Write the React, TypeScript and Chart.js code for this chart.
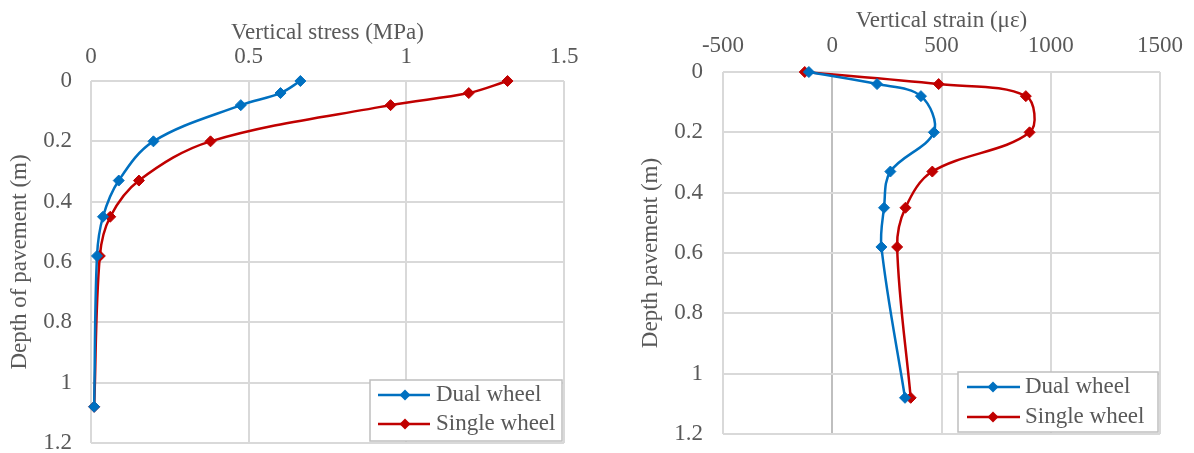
import React, { useEffect, useRef } from 'react';
import { Chart, registerables } from 'chart.js';

Chart.register(...registerables);

// ---- data ----
const depths = [0, 0.04, 0.08, 0.2, 0.33, 0.45, 0.58, 1.08];
const stressDual = [0.664, 0.601, 0.475, 0.198, 0.088, 0.038, 0.019, 0.01];
const stressSingle = [1.321, 1.198, 0.95, 0.379, 0.152, 0.061, 0.028, 0.01];
const strainDual = [-107, 205, 406, 465, 266, 237, 225, 333];
const strainSingle = [-126, 487, 886, 903, 458, 335, 297, 359];
const stressTicks = ['0', '0.5', '1', '1.5'];
const strainTicks = ['-500', '0', '500', '1000', '1500'];
const depthTicks = ['0', '0.2', '0.4', '0.6', '0.8', '1', '1.2'];
const seriesNames = ['Dual wheel', 'Single wheel'];
const seriesColors = ['#0070C0', '#C00000'];

const FONT = "'Liberation Serif', 'Times New Roman', serif";
const TEXT = '#595959';
const FS = 23;

function labelFor(v: number, arr: string[]) {
  const hit = arr.find((s) => Math.abs(Number(s) - v) < 1e-6);
  return hit === undefined ? '' : hit;
}

const boxLegend = {
  id: 'boxLegend',
  afterDatasetsDraw(chart: any, _args: any, opts: any) {
    if (!opts || !opts.show) return;
    const ctx = chart.ctx;
    const area = chart.chartArea;
    const w = opts.w, h = opts.h;
    const x0 = area.right - opts.dx - w;
    const y0 = area.bottom - opts.dy - h;
    ctx.save();
    ctx.fillStyle = '#ffffff';
    ctx.fillRect(x0, y0, w, h);
    ctx.strokeStyle = '#bfbfbf';
    ctx.lineWidth = 1.5;
    ctx.strokeRect(x0, y0, w, h);
    chart.data.datasets.forEach((ds: any, i: number) => {
      const cy = y0 + opts.rows[i];
      ctx.strokeStyle = ds.borderColor;
      ctx.lineWidth = 2.5;
      ctx.beginPath();
      ctx.moveTo(x0 + opts.l0, cy);
      ctx.lineTo(x0 + opts.l1, cy);
      ctx.stroke();
      const mx = x0 + opts.mk;
      const r = 5.5;
      ctx.fillStyle = ds.backgroundColor;
      ctx.beginPath();
      ctx.moveTo(mx, cy - r);
      ctx.lineTo(mx + r, cy);
      ctx.lineTo(mx, cy + r);
      ctx.lineTo(mx - r, cy);
      ctx.closePath();
      ctx.fill();
      ctx.fillStyle = TEXT;
      ctx.font = `${FS}px ${FONT}`;
      ctx.textBaseline = 'middle';
      ctx.textAlign = 'left';
      ctx.fillText(ds.label, x0 + opts.tx, cy);
    });
    ctx.restore();
  },
};

function makeConfig(p: any) {
  const datasets = [p.dual, p.single].map((vals: number[], i: number) => ({
    label: seriesNames[i],
    data: depths.map((d, k) => ({ x: vals[k], y: d })),
    showLine: true,
    borderColor: seriesColors[i],
    backgroundColor: seriesColors[i],
    borderWidth: 2.5,
    pointStyle: 'rectRot',
    pointRadius: 5.5,
    pointBorderWidth: 1,
    pointBorderColor: seriesColors[i],
    pointBackgroundColor: seriesColors[i],
    tension: 0.35,
    clip: false,
  }));
  return {
    type: 'scatter',
    data: { datasets },
    plugins: [boxLegend],
    options: {
      responsive: false,
      animation: false,
      layout: { padding: p.pad },
      plugins: {
        legend: { display: false },
        tooltip: { enabled: false },
        boxLegend: p.legend,
      },
      scales: {
        x: {
          type: 'linear',
          position: 'top',
          min: p.xmin,
          max: p.xmax,
          ticks: {
            stepSize: p.xstep,
            padding: p.xTickPad,
            color: TEXT,
            font: { family: FONT, size: FS },
            maxRotation: 0,
            autoSkip: false,
            callback: (v: number) => labelFor(v, p.xTicks),
          },
          grid: {
            color: (c: any) => (p.zeroDark && c.tick && c.tick.value === 0 ? '#bfbfbf' : '#d9d9d9'),
            lineWidth: 2,
            drawTicks: false,
          },
          border: { display: false },
          title: {
            display: true,
            text: p.xTitle,
            color: TEXT,
            font: { family: FONT, size: FS },
            padding: { top: p.xTitlePad, bottom: 0 },
          },
          afterFit: (s: any) => {
            s.height = p.topH;
            s.paddingLeft = 0;
            s.paddingRight = 0;
          },
        },
        y: {
          type: 'linear',
          reverse: true,
          min: 0,
          max: 1.2,
          ticks: {
            stepSize: 0.2,
            padding: p.yTickPad,
            color: TEXT,
            font: { family: FONT, size: FS },
            autoSkip: false,
            callback: (v: number) => labelFor(v, depthTicks),
          },
          grid: { color: '#d9d9d9', lineWidth: 2, drawTicks: false },
          border: { display: false },
          title: {
            display: true,
            text: p.yTitle,
            color: TEXT,
            font: { family: FONT, size: FS },
            padding: { top: p.yTitlePad, bottom: 0 },
          },
          afterFit: (s: any) => {
            s.width = p.leftW;
            s.paddingTop = 0;
            s.paddingBottom = 0;
          },
        },
      },
    },
  };
}

function ChartBox({ cfg, left }: { cfg: any; left: number }) {
  const ref = useRef<HTMLCanvasElement | null>(null);
  useEffect(() => {
    if (!ref.current) return;
    const chart = new Chart(ref.current, cfg);
    return () => chart.destroy();
  }, [cfg]);
  return (
    <div style={{ position: 'absolute', left, top: 0, width: 597, height: 453 }}>
      <canvas ref={ref} width={597} height={453} style={{ display: 'block' }} />
    </div>
  );
}

const leftCfg = makeConfig({
  dual: stressDual,
  single: stressSingle,
  xmin: 0,
  xmax: 1.5,
  xstep: 0.5,
  xTicks: stressTicks,
  xTitle: 'Vertical stress (MPa)',
  yTitle: 'Depth of pavement (m)',
  zeroDark: false,
  pad: { left: 0, right: 33, top: 0, bottom: 10 },
  topH: 81,
  leftW: 91,
  xTickPad: 10.5,
  xTitlePad: 19.5,
  yTickPad: 19,
  yTitlePad: 6,
  legend: { show: true, w: 192, h: 61, dx: 2, dy: 2, rows: [15, 44], l0: 8, l1: 60, mk: 35, tx: 66 },
});

const rightCfg = makeConfig({
  dual: strainDual,
  single: strainSingle,
  xmin: -500,
  xmax: 1500,
  xstep: 500,
  xTicks: strainTicks,
  xTitle: 'Vertical strain (με)',
  yTitle: 'Depth pavement (m)',
  zeroDark: true,
  pad: { left: 34, right: 34, top: 0, bottom: 19 },
  topH: 72,
  leftW: 92,
  xTickPad: 12.5,
  xTitlePad: 7.5,
  yTickPad: 20,
  yTitlePad: 6,
  legend: { show: true, w: 200, h: 60, dx: 2, dy: 2, rows: [15, 45], l0: 9, l1: 62, mk: 35, tx: 67 },
});

export default function App() {
  return (
    <div style={{ position: 'fixed', left: 0, top: 0, width: 1194, height: 453, background: '#ffffff' }}>
      <ChartBox cfg={leftCfg} left={0} />
      <ChartBox cfg={rightCfg} left={597} />
    </div>
  );
}
